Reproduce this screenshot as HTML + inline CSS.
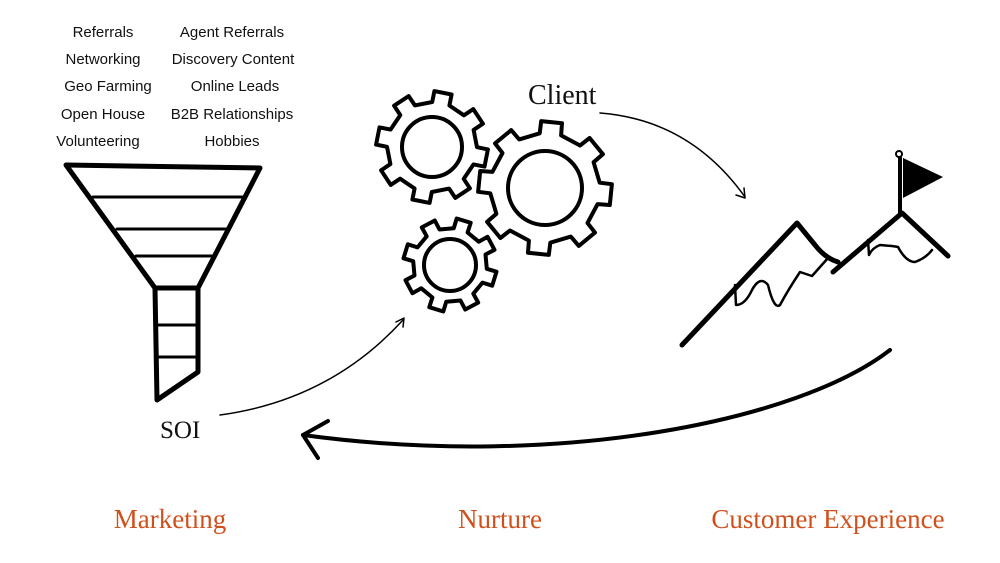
<!DOCTYPE html>
<html><head><meta charset="utf-8"><style>
html,body{margin:0;padding:0;background:#fff;}
svg{display:block}
.l{font-family:"Liberation Sans",sans-serif;font-size:15px;fill:#111;text-anchor:middle}
.s{font-family:"Liberation Serif",serif;fill:#111}
.o{font-family:"Liberation Serif",serif;fill:#d0501c;font-size:27px;text-anchor:middle}
</style></head><body>
<svg id="sv" width="1000" height="563" viewBox="0 0 1000 563" xmlns="http://www.w3.org/2000/svg">
<g fill="none" stroke="#000" stroke-linecap="round" stroke-linejoin="round">
<path d="M66,165 L260,168 L198,288 L155,288 Z" stroke-width="5"/>
<path d="M93,197 H242 M117,229 H226 M136,256 H212" stroke-width="3"/>
<path d="M155,288 L157,400 L198,372 L198,288" stroke-width="5"/>
<path d="M157,325 H198 M157,357 H198" stroke-width="3"/>
<path d="M682,345 L797,223 L815,245 Q825,258 838,262" stroke-width="5"/>
<path d="M833,272 L902,213 L948,256" stroke-width="5"/>
<path d="M900,213 V158" stroke-width="4"/>
<circle cx="899" cy="154" r="3" stroke-width="2"/>
<path d="M735,285 L736,305 Q745,305 752,290 Q760,275 768,285 Q774,310 780,305 Q788,290 800,272 L812,276 L828,258" stroke-width="2.5"/>
<path d="M868,240 L869,255 Q872,248 880,245 Q893,246 898,247 Q906,262 915,262 Q926,258 932,250" stroke-width="2.5"/>
<path d="M220,415 Q330,400 403,320" stroke-width="1.5"/>
<path d="M396,322 L404,318 L403,327" stroke-width="1.5"/>
<path d="M600,113 Q690,120 745,197" stroke-width="1.5"/>
<path d="M736,195 L745,198 L744,188" stroke-width="1.5"/>
<path d="M890,350 C800,420 560,470 303,435" stroke-width="4"/>
<path d="M328,421 L303,435 L318,458" stroke-width="4"/>
<g id="gears" stroke-width="4"></g>
</g>
<path d="M903,158 L943,177 L903,198 Z" fill="#000"/>
<text class="l" x="103" y="37">Referrals</text>
<text class="l" x="103" y="64">Networking</text>
<text class="l" x="108" y="91">Geo Farming</text>
<text class="l" x="103" y="119">Open House</text>
<text class="l" x="98" y="146">Volunteering</text>
<text class="l" x="232" y="37">Agent Referrals</text>
<text class="l" x="233" y="64">Discovery Content</text>
<text class="l" x="235" y="91">Online Leads</text>
<text class="l" x="232" y="119">B2B Relationships</text>
<text class="l" x="232" y="146">Hobbies</text>
<text class="s" x="528" y="104" font-size="28">Client</text>
<text class="s" x="160" y="438" font-size="25">SOI</text>
<text class="o" x="170" y="528">Marketing</text>
<text class="o" x="500" y="528">Nurture</text>
<text class="o" x="828" y="528">Customer Experience</text>
</svg>
<script>
function gear(cx,cy,rb,rt,n,ri,rot){
 var d="",k,a,s=Math.PI*2/n,w=s*0.2;
 for(k=0;k<n;k++){a=rot+k*s;
  var p=[[rb,a-w*1.25],[rt,a-w],[rt,a+w],[rb,a+w*1.25],[rb,a+s-w*1.25]];
  p.forEach(function(q,i){d+=(k==0&&i==0?"M":"L")+(cx+q[0]*Math.cos(q[1])).toFixed(1)+","+(cy+q[0]*Math.sin(q[1])).toFixed(1)+" ";});
 }
 d+="Z";
 return '<path d="'+d+'"/><circle cx="'+cx+'" cy="'+cy+'" r="'+ri+'"/>';
}
document.getElementById("gears").innerHTML=
 gear(432,147,45,56,8,30,0.2)+gear(545,188,55,67,8,37,0.1)+gear(450,265,37,47,8,26,0.3);
</script>
</body></html>
